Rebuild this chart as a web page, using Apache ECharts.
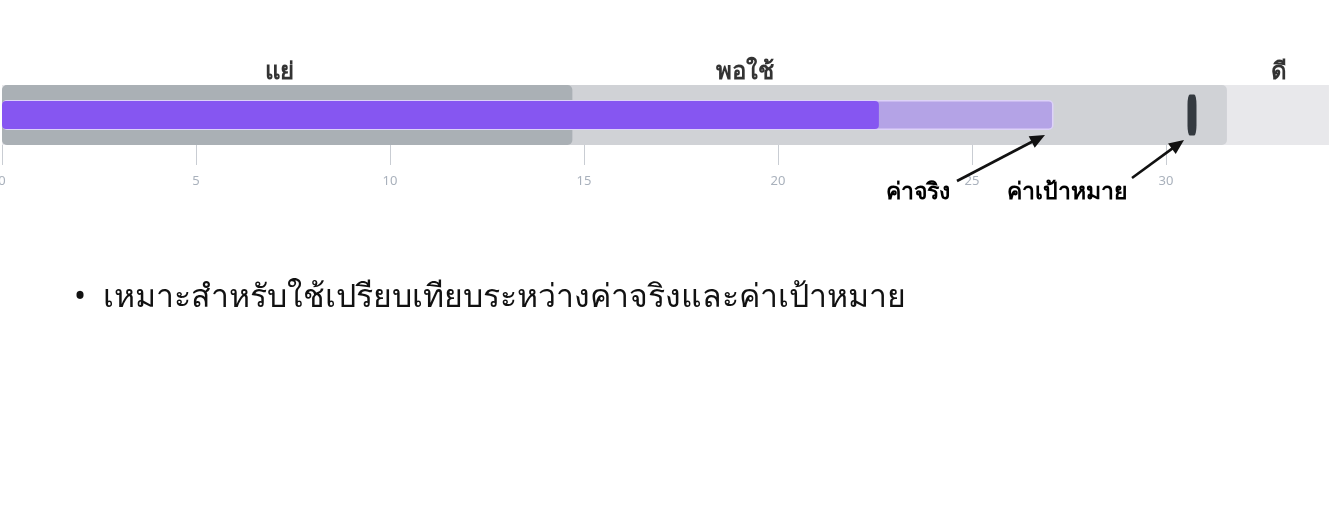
<!DOCTYPE html>
<html><head><meta charset="utf-8">
<script src="https://cdn.jsdelivr.net/npm/echarts@6/dist/echarts.min.js"></script>
<style>html,body{margin:0;padding:0;background:#fff}#c{width:1342px;height:509px}</style>
</head><body><div id="c"></div>
<script>
// ---- data ----
const rowName = ['row'];
const bandNames = ['แย่', 'พอใช้', 'ดี'];
const bandEnds = [14.7, 31.57, 34.2];      // end of each qualitative range
const bandLabelAt = [7.16, 19.15, 32.9];   // where each range label sits
const actualValue = [27.1];                // ค่าจริง (light bar)
const currentValue = [22.6];               // inner dark bar
const targetValue = [30.67];               // ค่าเป้าหมาย
const xTicks = [0, 5, 10, 15, 20, 25, 30];

const FONT = '"Noto Sans", "DejaVu Sans", sans-serif';
const chart = echarts.init(document.getElementById('c'));

const bandColors = ['#aab0b5', '#d0d2d6', '#e8e8eb'];
const bandSeries = [2, 1, 0].map(i => ({
  type: 'bar', name: bandNames[i], barWidth: 60, barGap: '-100%', yAxisIndex: 0,
  silent: true, z: 1 + (2 - i),
  itemStyle: { color: bandColors[i], borderRadius: i === 2 ? 0 : 5 },
  data: [bandEnds[i]]
}));

function arrow(x1, y1, x2, y2) {
  const a = Math.atan2(y2 - y1, x2 - x1), L = 15, W = 6.5;
  const bx = x2 - L * Math.cos(a), by = y2 - L * Math.sin(a);
  const px = -Math.sin(a) * W, py = Math.cos(a) * W;
  return [
    { type: 'line', z: 100, shape: { x1, y1, x2: bx + 2 * Math.cos(a), y2: by + 2 * Math.sin(a) }, style: { stroke: '#111', lineWidth: 2.6 } },
    { type: 'polygon', z: 100, shape: { points: [[x2, y2], [bx + px, by + py], [bx - px, by - py]] }, style: { fill: '#111' } }
  ];
}

const yCat = { type: 'category', data: rowName, show: false };

chart.setOption({
  animation: false,
  grid: { left: 2, right: 1.4, top: 85, height: 60, outerBoundsMode: 'none', containLabel: false },
  xAxis: {
    type: 'value', min: 0, max: 34.5, interval: 5,
    axisLine: { show: false },
    splitLine: { show: false },
    axisTick: { show: true, length: 20, lineStyle: { color: '#c9cdd3', width: 1 }, customValues: xTicks },
    axisLabel: { margin: 30, color: '#a9b1bc', fontSize: 13, fontFamily: FONT, customValues: xTicks }
  },
  yAxis: [yCat, Object.assign({}, yCat), Object.assign({}, yCat)],
  series: [
    ...bandSeries,
    {
      type: 'bar', name: 'ค่าจริง', barWidth: 30, yAxisIndex: 1, z: 5,
      itemStyle: { color: '#b4a3e6', borderColor: '#ddd2f8', borderWidth: 1.5, borderRadius: 4 },
      data: actualValue
    },
    {
      type: 'bar', name: 'current', barWidth: 28, yAxisIndex: 2, z: 6,
      itemStyle: { color: '#8656f1', borderRadius: 4 },
      data: currentValue
    },
    {
      type: 'scatter', name: 'ค่าเป้าหมาย', z: 7, yAxisIndex: 0,
      symbol: 'roundRect', symbolSize: [9, 41],
      itemStyle: { color: '#343a40', opacity: 1 },
      data: targetValue.map(v => [v, 0])
    },
    {
      type: 'scatter', name: 'labels', z: 8, symbolSize: 0, silent: true, yAxisIndex: 0,
      label: { show: true, formatter: p => p.data.name, offset: [0, -43],
        fontSize: 24, fontWeight: 'bold', color: '#000', fontFamily: FONT },
      data: bandNames.map((n, i) => ({ name: n, value: [bandLabelAt[i], 0] }))
    }
  ],
  graphic: [
    { type: 'text', z: 100, left: 886, top: 181, style: { text: 'ค่าจริง', fill: '#000', font: 'bold 23px ' + FONT } },
    { type: 'text', z: 100, left: 1007, top: 181, style: { text: 'ค่าเป้าหมาย', fill: '#000', font: 'bold 23px ' + FONT } },
    ...arrow(957, 181, 1045, 135),
    ...arrow(1132, 178, 1184, 140),
    { type: 'text', z: 100, left: 74, top: 282, style: { text: '•  เหมาะสำหรับใช้เปรียบเทียบระหว่างค่าจริงและค่าเป้าหมาย', fill: '#111', font: '32px ' + FONT } }
  ]
});
</script></body></html>
